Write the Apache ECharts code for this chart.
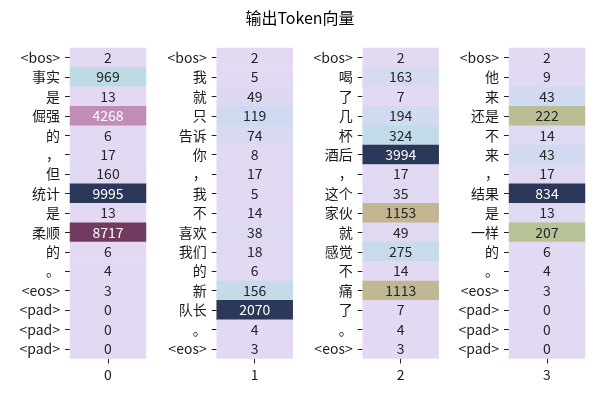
<!DOCTYPE html>
<html>
<head>
<meta charset="utf-8">
<script src="https://cdn.jsdelivr.net/npm/echarts@6/dist/echarts.min.js"></script>
<style>html,body{margin:0;padding:0;background:#fff}#c{width:600px;height:400px}</style>
</head>
<body>
<div id="c"></div>
<script>
var title = '输出Token向量';
var columnNames = ['0', '1', '2', '3'];
var tokens0 = ['<bos>','事实','是','倔强','的','，','但','统计','是','柔顺','的','。','<eos>','<pad>','<pad>','<pad>'];
var values0 = [2, 969, 13, 4268, 6, 17, 160, 9995, 13, 8717, 6, 4, 3, 0, 0, 0];
var tokens1 = ['<bos>','我','就','只','告诉','你','，','我','不','喜欢','我们','的','新','队长','。','<eos>'];
var values1 = [2, 5, 49, 119, 74, 8, 17, 5, 14, 38, 18, 6, 156, 2070, 4, 3];
var tokens2 = ['<bos>','喝','了','几','杯','酒后','，','这个','家伙','就','感觉','不','痛','了','。','<eos>'];
var values2 = [2, 163, 7, 194, 324, 3994, 17, 35, 1153, 49, 275, 14, 1113, 7, 4, 3];
var tokens3 = ['<bos>','他','来','还是','不','来','，','结果','是','一样','的','。','<eos>','<pad>','<pad>','<pad>'];
var values3 = [2, 9, 43, 222, 14, 43, 17, 834, 13, 207, 6, 4, 3, 0, 0, 0];

var tokenLists = [tokens0, tokens1, tokens2, tokens3];
var valueLists = [values0, values1, values2, values3];

// colormap stops (normalized position, colour)
var cmapStops = [
  [0.00, '#e3d9f2'], [0.02, '#dfd9f2'], [0.05, '#d1daf1'], [0.08, '#c2dbe8'],
  [0.10, '#bbdbe3'], [0.17, '#b3d3c6'], [0.25, '#b5c396'], [0.27, '#bcbb94'],
  [0.29, '#c4b591'], [0.43, '#c28bb8'], [0.87, '#733a5e'], [1.00, '#2c3859']
];
function hex2rgb(h){return [parseInt(h.substr(1,2),16),parseInt(h.substr(3,2),16),parseInt(h.substr(5,2),16)];}
function cmap(t){
  t = Math.max(0, Math.min(1, t));
  for (var i = 1; i < cmapStops.length; i++) {
    if (t <= cmapStops[i][0]) {
      var a = cmapStops[i-1], b = cmapStops[i];
      var f = (t - a[0]) / (b[0] - a[0]);
      var ca = hex2rgb(a[1]), cb = hex2rgb(b[1]);
      return [0,1,2].map(function(k){return Math.round(ca[k] + (cb[k]-ca[k])*f);});
    }
  }
  return hex2rgb(cmapStops[cmapStops.length-1][1]);
}
function lum(rgb){
  var c = rgb.map(function(v){v/=255;return v<=0.03928?v/12.92:Math.pow((v+0.055)/1.055,2.4);});
  return 0.2126*c[0]+0.7152*c[1]+0.0722*c[2];
}

var font = '"Noto Sans CJK SC", "DejaVu Sans", sans-serif';
var lefts = [70, 216.7, 362.7, 509];
var grids = [], xAxes = [], yAxes = [], series = [];
for (var g = 0; g < 4; g++) {
  grids.push({left: lefts[g], width: 76, top: 48, bottom: 41.5});
  xAxes.push({
    type: 'category', gridIndex: g, data: [columnNames[g]],
    axisLine: {show: false},
    axisTick: {show: true, alignWithLabel: true, length: 5, lineStyle: {color: '#222'}},
    axisLabel: {color: '#1a1a1a', fontSize: 14, fontFamily: font, margin: 9},
    splitLine: {show: false}
  });
  yAxes.push({
    type: 'category', gridIndex: g, inverse: true, data: tokenLists[g],
    axisLine: {show: false},
    axisTick: {show: true, alignWithLabel: true, length: 5, lineStyle: {color: '#222'}},
    axisLabel: {color: '#1a1a1a', fontSize: 14, fontFamily: font, margin: 10, interval: 0},
    splitLine: {show: false}
  });
  var vals = valueLists[g];
  var mx = Math.max.apply(null, vals);
  var data = vals.map(function(v, i){
    var rgb = cmap(v / mx);
    return {
      value: [0, i, v],
      itemStyle: {color: 'rgb(' + rgb.join(',') + ')'},
      label: {color: lum(rgb) > 0.408 ? '#262626' : '#ffffff'}
    };
  });
  series.push({
    type: 'heatmap', xAxisIndex: g, yAxisIndex: g, data: data,
    label: {show: true, fontSize: 14, fontFamily: font, formatter: function(p){return p.value[2];}},
    emphasis: {disabled: true}
  });
}

var chart = echarts.init(document.getElementById('c'), null, {renderer: 'canvas'});
chart.setOption({
  animation: false,
  backgroundColor: '#ffffff',
  title: {text: title, left: 'center', top: 5, textStyle: {fontSize: 16, fontWeight: 'normal', color: '#000', fontFamily: font}},
  grid: grids, xAxis: xAxes, yAxis: yAxes, series: series
});
</script>
</body>
</html>
